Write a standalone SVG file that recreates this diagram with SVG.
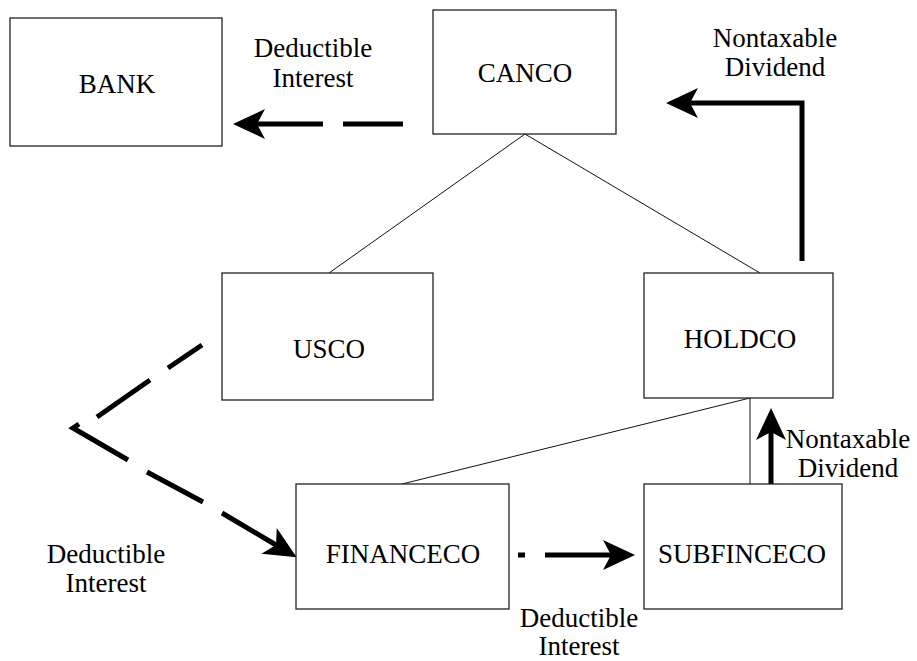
<svg xmlns="http://www.w3.org/2000/svg" width="917" height="661" viewBox="0 0 917 661">
<style>
.box{fill:#fff;stroke:#222;stroke-width:1.3}
.lbl{font-family:"Liberation Serif","Times New Roman",serif;font-size:27px;fill:#000;text-anchor:middle}
.thin{stroke:#111;stroke-width:1;fill:none}
.flow{stroke:#000;stroke-width:5;fill:none;stroke-linejoin:miter}
</style>
<defs>
<marker id="ah" markerUnits="userSpaceOnUse" markerWidth="40" markerHeight="40" refX="0" refY="0" orient="auto" overflow="visible">
<path d="M24,0 L-8,-15 L0,0 L-8,15 Z" fill="#000"/>
</marker>
</defs>
<rect width="917" height="661" fill="#fff"/>
<g id="connectors">
<path class="thin" d="M525,134 L329,273"/>
<path class="thin" d="M525,134 L760,273"/>
<path class="thin" d="M750,398 L402,484"/>
<path class="thin" d="M750,398 L750,484"/>
<path class="flow" d="M403,124 H343 M323,124 H257" marker-end="url(#ah)"/>
<path class="flow" d="M802,261 V103 H690" marker-end="url(#ah)"/>
<path class="flow" d="M771,484 V432" marker-end="url(#ah)"/>
<path class="flow" d="M518,555 H525 M545,555 H611" marker-end="url(#ah)"/>
<path class="flow" d="M202,345 L168,368 M150,380 L97,417 M79,424 L73,428 L128,460 M147,472 L203,502 M222,513 L276,545" marker-end="url(#ah)"/>
</g>
<g id="bank"><rect class="box" x="10" y="18" width="212" height="128"/><text class="lbl" x="117" y="93">BANK</text></g>
<g id="canco"><rect class="box" x="433" y="10" width="183" height="124"/><text class="lbl" x="525" y="82">CANCO</text></g>
<g id="usco"><rect class="box" x="222" y="273" width="211" height="127"/><text class="lbl" x="329" y="358">USCO</text></g>
<g id="holdco"><rect class="box" x="644" y="273" width="189" height="125"/><text class="lbl" x="740" y="348">HOLDCO</text></g>
<g id="financeco"><rect class="box" x="296" y="484" width="213" height="125"/><text class="lbl" x="403" y="563">FINANCECO</text></g>
<g id="subfinceco"><rect class="box" x="644" y="484" width="198" height="125"/><text class="lbl" x="742" y="563">SUBFINCECO</text></g>
<g id="labels">
<text class="lbl" x="313" y="57">Deductible</text><text class="lbl" x="313" y="87">Interest</text>
<text class="lbl" x="775" y="47">Nontaxable</text><text class="lbl" x="775" y="76">Dividend</text>
<text class="lbl" x="848" y="448">Nontaxable</text><text class="lbl" x="848" y="477">Dividend</text>
<text class="lbl" x="106" y="563">Deductible</text><text class="lbl" x="106" y="592">Interest</text>
<text class="lbl" x="579" y="627">Deductible</text><text class="lbl" x="579" y="655">Interest</text>
</g>
</svg>
